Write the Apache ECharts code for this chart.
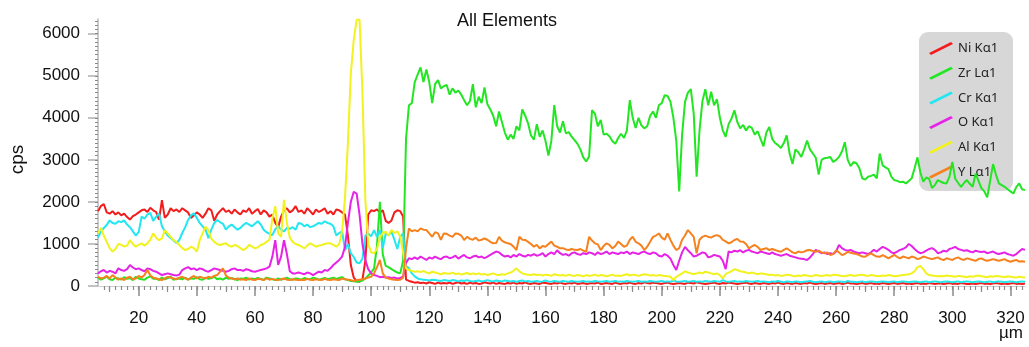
<!doctype html>
<html>
<head>
<meta charset="utf-8">
<title>All Elements</title>
<style>
  html, body { margin: 0; padding: 0; background: #fff; }
  #main { width: 1029px; height: 347px; }
</style>
</head>
<body>
<div id="main"></div>
<script src="https://cdn.jsdelivr.net/npm/echarts@6/dist/echarts.min.js"></script>
<script>
// depth positions in µm, one reading per µm from 6 to 325
var depth = [];
for (var d = 6; d <= 325; d++) depth.push(d);

var seriesNames = ['Ni K\u03b11', 'Zr L\u03b11', 'Cr K\u03b11', 'O K\u03b11', 'Al K\u03b11', 'Y L\u03b11'];

var xTickValues = [20, 40, 60, 80, 100, 120, 140, 160, 180, 200, 220, 240, 260, 280, 300, 320];
var yTickValues = [0, 1000, 2000, 3000, 4000, 5000, 6000];

var niK = [
  1780, 1900, 1950, 1750, 1720, 1780, 1700, 1750, 1680, 1720,
  1640, 1580, 1660, 1700, 1750, 1800, 1820, 1760, 1860, 1800,
  1760, 1580, 2040, 1620, 1700, 1850, 1780, 1820, 1760, 1850,
  1800, 1750, 1620, 1680, 1750, 1700, 1620, 1720, 1850, 1800,
  1550, 1700, 1780, 1850, 1760, 1800, 1720, 1820, 1750, 1700,
  1800, 1760, 1850, 1720, 1780, 1830, 1700, 1800, 1750, 1650,
  1700, 1500, 1400, 1650, 1800, 1850, 1750, 1800, 1900, 1760,
  1800, 1720, 1850, 1780, 1700, 1820, 1760, 1800, 1850, 1720,
  1780, 1700, 1820, 1800, 1750, 1700, 1200, 500, 200, 120,
  100, 150, 600, 1700, 1800, 1780, 1820, 1750, 1800, 1550,
  1500, 1560, 1750, 1800, 1780, 1650, 150, 120, 100, 80,
  90, 70, 80, 60, 90, 70, 50, 80, 60, 70,
  60, 80, 50, 70, 90, 60, 70, 50, 80, 60,
  70, 50, 60, 90, 70, 60, 80, 50, 70, 60,
  50, 70, 60, 80, 50, 70, 60, 90, 60, 50,
  70, 60, 50, 80, 70, 60, 50, 70, 60, 80,
  60, 50, 70, 60, 80, 50, 60, 70, 50, 60,
  70, 60, 80, 50, 60, 70, 60, 50, 80, 60,
  50, 70, 60, 80, 60, 50, 70, 60, 90, 70,
  60, 80, 70, 60, 50, 70, 80, 60, 50, 60,
  70, 60, 50, 80, 70, 60, 90, 70, 60, 50,
  60, 70, 80, 60, 50, 70, 60, 80, 70, 60,
  50, 60, 70, 80, 60, 50, 70, 60, 50, 70,
  60, 50, 70, 60, 80, 60, 50, 70, 60, 50,
  70, 60, 50, 70, 60, 80, 60, 50, 60, 70,
  50, 60, 70, 50, 60, 70, 50, 60, 80, 60,
  60, 50, 60, 70, 50, 60, 70, 50, 60, 50,
  70, 60, 50, 60, 70, 50, 60, 70, 50, 60,
  50, 60, 70, 50, 60, 50, 70, 60, 50, 60,
  60, 50, 60, 70, 50, 60, 50, 70, 60, 50,
  50, 60, 50, 60, 70, 50, 60, 50, 60, 70,
  60, 50, 60, 50, 60, 70, 50, 60, 50, 60
];

var zrL = [
  200, 150, 180, 220, 160, 140, 200, 180, 150, 210,
  170, 190, 140, 220, 180, 160, 150, 200, 230, 170,
  180, 140, 200, 160, 190, 220, 150, 170, 180, 160,
  200, 150, 180, 170, 210, 160, 150, 200, 170, 190,
  220, 160, 180, 150, 200, 170, 190, 160, 140, 180,
  170, 200, 150, 180, 160, 190, 170, 150, 200, 180,
  160, 140, 180, 150, 170, 200, 160, 150, 180, 170,
  150, 190, 170, 160, 200, 180, 150, 170, 190, 160,
  180, 200, 170, 190, 210, 160, 140, 120, 110, 100,
  110, 130, 180, 250, 320, 420, 950, 2000, 750, 480,
  450, 400, 360, 320, 300, 600, 3500, 4300, 4350, 4850,
  5030, 5200, 4850, 5150, 4850, 4350, 4800, 4900, 4700, 4750,
  4780, 4550, 4700, 4600, 4650, 4550, 4420, 4300, 4400, 4800,
  4250, 4500, 4350, 4720, 4320, 4200, 4050, 3800, 4150, 3900,
  3650, 3480, 3600, 3500, 3800, 3700, 4200, 4050, 3870, 3580,
  3480, 3850, 3550, 3700, 3450, 3100, 3450, 4300, 3800, 3650,
  3920, 3630, 3660, 3550, 3470, 3380, 3250, 3060, 2960, 3080,
  4180, 4100, 3800, 3950, 3600, 3620, 3560, 3450, 3380, 3520,
  3620, 3520, 3700, 4420, 4000, 3760, 4000, 3820, 3750, 3800,
  4050, 4150, 4000, 4300, 4350, 4540, 4520, 4380, 4000, 3450,
  2250, 3600, 4380, 4600, 4680, 4100, 2600, 3700, 4400, 4680,
  4300, 4620, 4300, 4440, 4000, 3700, 3550, 3850, 3980, 4180,
  3900, 3750, 3830, 3700, 3800, 3760, 3600, 3680, 3500, 3320,
  3650, 3780, 3500, 3400, 3350, 3280, 3400, 3580, 3150, 2900,
  3250, 3180, 3070, 3250, 3460, 3250, 3150, 3050, 2650, 3000,
  3040, 3050, 3070, 2950, 3000, 3070, 3200, 3420, 3000, 2850,
  2950, 2920, 2800, 2560, 2530, 2600, 2620, 2650, 2560, 3150,
  2870, 2820, 2780, 2600, 2520, 2500, 2470, 2480, 2440, 2500,
  2560, 2800, 3060, 2700, 2480, 2580, 2550, 2330, 2400, 2520,
  2480, 2450, 2440, 2600, 2950, 2550, 2450, 2360, 2450, 2520,
  2430, 2360, 2670, 2500, 2330, 2250, 2110, 2500, 2900, 2650,
  2440, 2400, 2360, 2300, 2250, 2200, 2350, 2440, 2300, 2280
];

var crK = [
  1150, 1300, 1380, 1450, 1560, 1500, 1480, 1540, 1520, 1560,
  1460, 1400, 1300, 1200, 1280, 1650, 1600, 1700, 1740, 1550,
  1650, 1720, 1420, 1300, 1200, 1140, 1080, 1020, 1100, 1260,
  1400, 1570, 1680, 1730, 1620, 1500, 1420, 1340, 1140, 1340,
  1500, 1570, 1520, 1480, 1340, 1420, 1460, 1400, 1340, 1380,
  1450, 1500, 1460, 1420, 1480, 1540, 1460, 1340, 1280, 1240,
  1210, 1350, 1420, 1340, 1300, 1380, 1360, 1400, 1340, 1500,
  1480, 1420, 1460, 1400, 1420, 1460, 1500, 1480, 1540, 1500,
  1480, 1420, 1200, 1260, 1300, 850, 1000, 780, 690, 560,
  540, 650, 1200, 1250, 1180, 1330, 1170, 1330, 900, 1250,
  1200, 1300, 1100, 880, 1170, 1250, 480, 420, 300, 230,
  180, 160, 150, 140, 130, 150, 140, 130, 120, 140,
  130, 120, 140, 130, 110, 130, 120, 140, 120, 110,
  120, 130, 110, 120, 140, 120, 110, 130, 120, 110,
  130, 120, 110, 120, 100, 120, 130, 110, 120, 100,
  110, 120, 100, 110, 130, 110, 100, 120, 110, 100,
  120, 110, 100, 120, 110, 100, 110, 120, 100, 110,
  100, 120, 110, 100, 110, 120, 100, 110, 120, 100,
  110, 100, 120, 110, 100, 110, 120, 100, 110, 100,
  120, 110, 100, 110, 120, 100, 110, 100, 130, 110,
  100, 110, 120, 100, 110, 120, 100, 110, 100, 120,
  110, 100, 120, 110, 100, 140, 110, 100, 110, 120,
  100, 110, 100, 120, 110, 100, 110, 120, 100, 110,
  100, 90, 110, 100, 120, 100, 90, 110, 100, 90,
  110, 100, 90, 100, 110, 120, 100, 90, 100, 110,
  90, 100, 110, 90, 100, 110, 100, 90, 120, 100,
  100, 90, 100, 110, 90, 100, 110, 100, 90, 100,
  110, 100, 90, 100, 110, 90, 100, 110, 100, 90,
  100, 110, 100, 90, 100, 110, 90, 100, 110, 100,
  90, 100, 110, 100, 90, 100, 110, 90, 100, 110,
  100, 90, 100, 110, 100, 90, 100, 110, 90, 100,
  110, 100, 90, 100, 110, 100, 90, 100, 110, 100
];

var oK = [
  300, 350, 380, 320, 360, 340, 300, 420, 380, 360,
  400, 500, 440, 400, 420, 380, 350, 420, 400, 360,
  340, 300, 260, 280, 300, 280, 260, 250, 270, 380,
  420, 450, 400, 420, 380, 420, 400, 360, 340, 380,
  420, 400, 380, 360, 340, 360, 400, 420, 380, 380,
  360, 400, 380, 350, 340, 360, 380, 400, 420, 460,
  700, 1090, 500, 700, 1090, 760, 350, 300, 300, 320,
  300, 280, 320, 300, 260, 300, 340, 320, 380, 360,
  420, 500, 560, 620, 700, 930, 1500, 2000, 2240, 2200,
  1700, 1000, 620, 400, 300, 260, 240, 210, 220, 200,
  210, 190, 200, 180, 190, 220, 550, 660, 640, 680,
  640, 700, 660, 620, 680, 650, 700, 660, 640, 690,
  700, 660, 680, 720, 650, 700, 740, 680, 660, 700,
  720, 680, 700, 660, 700, 740, 780, 820, 800, 740,
  700, 720, 680, 740, 700, 760, 720, 700, 740, 720,
  760, 720, 740, 780, 700, 760, 800, 760, 850, 780,
  740, 760, 720, 780, 800, 760, 740, 780, 760, 800,
  780, 740, 800, 760, 780, 820, 760, 800, 780, 760,
  800, 780, 820, 760, 800, 780, 760, 800, 820, 780,
  760, 800, 780, 720, 700, 760, 720, 650, 500, 380,
  600, 800, 930, 850, 780, 700, 720, 760, 800, 780,
  680, 700, 740, 720, 700, 600, 400, 820, 800, 840,
  820, 850, 800, 840, 860, 820, 800, 780, 820, 800,
  780, 760, 800, 760, 740, 720, 740, 760, 720, 700,
  680, 660, 650, 640, 620, 680, 760, 860, 820, 780,
  800, 760, 780, 760, 820, 980, 900, 860, 840, 860,
  820, 800, 780, 800, 780, 760, 800, 860, 820, 880,
  930, 900, 860, 800, 780, 820, 860, 880, 920, 1000,
  950, 880, 820, 780, 800, 840, 880, 900, 860, 780,
  800, 840, 820, 880, 900, 930, 880, 860, 840, 850,
  820, 800, 840, 820, 810, 820, 780, 800, 820, 780,
  760, 780, 800, 760, 740, 720, 760, 820, 880, 860
];

var alK = [
  1250, 1380, 1200, 1050, 900, 820, 880, 1000, 980, 940,
  960, 1090, 1000, 935, 980, 1015, 960, 1015, 1100, 1250,
  1150, 1090, 1130, 1330, 1250, 1170, 1090, 1050, 975, 900,
  855, 880, 935, 900, 815, 1090, 1250, 1410, 1330, 1130,
  1050, 1000, 975, 1000, 1015, 960, 935, 975, 950, 900,
  855, 900, 975, 940, 895, 920, 975, 1000, 1050, 1100,
  1600, 1900, 1250, 1170, 2050, 1500, 1150, 1050, 1000, 975,
  940, 895, 960, 1015, 980, 935, 960, 975, 1000, 1015,
  1015, 980, 935, 1000, 1300, 2100, 3400, 5050, 5850, 6330,
  6330, 4600, 2040, 1000, 800, 780, 880, 1150, 1260, 1290,
  1200, 1330, 1260, 1300, 1170, 800, 420, 380, 360, 340,
  350, 330, 360, 320, 300, 340, 320, 300, 280, 310,
  300, 290, 320, 280, 300, 270, 290, 310, 280, 300,
  280, 300, 270, 290, 260, 280, 300, 270, 260, 280,
  270, 300, 320, 360, 420, 350, 300, 280, 270, 260,
  280, 260, 270, 250, 270, 260, 240, 280, 260, 250,
  260, 240, 270, 250, 240, 260, 250, 230, 260, 240,
  250, 270, 240, 260, 250, 230, 250, 270, 240, 250,
  240, 260, 280, 250, 270, 260, 240, 260, 280, 270,
  250, 260, 240, 260, 250, 240, 230, 220, 140, 220,
  260, 300, 350, 320, 300, 280, 300, 320, 300, 340,
  320, 300, 280, 300, 260, 180, 280, 320, 350, 400,
  380, 350, 340, 320, 300, 320, 300, 280, 300, 290,
  280, 260, 270, 250, 260, 240, 250, 270, 260, 240,
  230, 250, 240, 260, 250, 230, 240, 260, 250, 240,
  250, 260, 240, 270, 260, 250, 240, 230, 250, 260,
  240, 250, 260, 270, 250, 240, 260, 250, 240, 230,
  250, 240, 260, 250, 230, 240, 250, 260, 270, 280,
  300, 350, 450, 480, 400, 300, 260, 250, 240, 230,
  240, 230, 250, 240, 230, 220, 240, 230, 220, 210,
  230, 220, 240, 250, 230, 220, 210, 230, 220, 240,
  230, 220, 210, 230, 220, 210, 200, 220, 210, 200
];

var yL = [
  220, 180, 200, 240, 180, 260, 200, 150, 180, 140,
  200, 220, 160, 180, 240, 200, 260, 380, 250, 200,
  180, 160, 140, 180, 220, 200, 180, 160, 200, 220,
  180, 150, 200, 240, 180, 220, 200, 180, 220, 200,
  240, 260, 340, 420, 250, 200, 180, 160, 180, 150,
  160, 140, 180, 150, 140, 170, 160, 140, 180, 150,
  170, 150, 140, 160, 180, 150, 140, 160, 150, 140,
  150, 140, 170, 150, 140, 160, 150, 140, 170, 150,
  140, 160, 150, 140, 180, 160, 150, 140, 120, 140,
  150, 160, 180, 200, 220, 300, 450, 620, 300, 200,
  180, 160, 150, 140, 150, 200, 900, 1370, 1300, 1330,
  1300, 1370, 1340, 1330, 1250, 1170, 1280, 1250, 1100, 1250,
  1240, 1200, 1170, 1250, 1240, 1200, 1095, 1170, 1120, 1100,
  1150, 1080, 1100, 1130, 1100, 1050, 1015, 1020, 1170, 1080,
  1040, 1015, 1000, 935, 855, 1170, 1100, 1095, 1050, 1000,
  935, 980, 895, 950, 935, 1000, 1055, 960, 935, 895,
  900, 870, 855, 880, 860, 855, 880, 840, 815, 1170,
  1080, 1015, 990, 855, 950, 1015, 980, 895, 950, 1055,
  1000, 935, 960, 1100, 1170, 1050, 1015, 960, 855, 935,
  1050, 1170, 1200, 1250, 1150, 1100, 1250, 1095, 960, 855,
  900, 1100, 1200, 1330, 1250, 1170, 775, 1100, 1170, 1200,
  1170, 1150, 1190, 1210, 1180, 1095, 1060, 1015, 1040, 1095,
  1120, 1060, 1055, 1000, 895, 940, 975, 930, 855, 880,
  900, 855, 880, 855, 830, 815, 860, 895, 850, 800,
  775, 820, 800, 815, 850, 855, 830, 815, 840, 800,
  775, 800, 735, 760, 850, 800, 735, 760, 815, 790,
  775, 760, 735, 700, 695, 740, 775, 735, 700, 695,
  735, 700, 657, 700, 740, 695, 657, 700, 680, 657,
  700, 680, 640, 660, 700, 680, 657, 640, 660, 680,
  640, 617, 660, 640, 620, 657, 680, 640, 620, 657,
  640, 617, 600, 640, 657, 620, 600, 617, 640, 620,
  600, 617, 640, 600, 577, 600, 620, 580, 590, 577
];

var seriesValues = [niK, zrL, crK, oK, alK, yL];
var seriesColors = ['#f21c1c', '#22e622', '#22e6f0', '#e622e6', '#f2f21e', '#f5821e'];

// positions of the small ticks (every 2 µm on x, every 100 cps on y)
var xMinor = [], xMid = [], yMinor = [];
for (var m = 8; m <= 324; m += 2) xMinor.push(m);
for (var k = 10; k <= 320; k += 20) xMid.push(k);
for (var n = 100; n <= 6300; n += 100) yMinor.push(n);

var chart = echarts.init(document.getElementById('main'));

var font = '"Liberation Sans", Arial, Helvetica, sans-serif';

chart.setOption({
  animation: false,
  backgroundColor: '#fff',
  title: {
    text: 'All Elements',
    left: 452,
    top: 7,
    textStyle: { fontFamily: font, fontSize: 18, fontWeight: 'normal', color: '#111' }
  },
  legend: {
    orient: 'vertical',
    left: 919,
    top: 32,
    data: seriesNames,
    padding: [10, 12, 12, 10],
    itemWidth: 24,
    itemHeight: 13,
    itemGap: 11.7,
    icon: 'path://M0,11 L22,0 L24,2 L2,13 Z',
    textStyle: { fontFamily: '"Noto Sans", sans-serif', fontSize: 13, color: '#222' }
  },
  graphic: [{
    // grey panel behind the legend, kept under the plotted lines
    type: 'rect',
    left: 919,
    top: 32,
    z: -1,
    silent: true,
    shape: { width: 94, height: 159, r: 9 },
    style: { fill: 'rgba(205,205,205,0.8)' }
  }, {
    type: 'text',
    right: 6,
    top: 325,
    z: 10,
    style: { text: '\u00b5m', fontFamily: font, fontSize: 17, fill: '#111' }
  }],
  grid: { left: 95, right: 4, top: 19, bottom: 61 },
  xAxis: [{
    type: 'value',
    min: 6,
    max: 325,
    axisLine: { show: true, lineStyle: { color: '#d0d0d0', width: 1 } },
    axisTick: { show: true, customValues: xTickValues, length: 10, lineStyle: { color: '#8a8a8a', width: 1.5 } },
    axisLabel: { customValues: xTickValues, margin: 24, fontFamily: font, fontSize: 17, color: '#111' },
    splitLine: { show: false }
  }, {
    type: 'value',
    min: 6,
    max: 325,
    position: 'bottom',
    axisLine: { show: false },
    axisTick: { show: true, customValues: xMinor, length: 4, lineStyle: { color: '#8a8a8a', width: 1.2 } },
    axisLabel: { show: false },
    splitLine: { show: false }
  }, {
    type: 'value',
    min: 6,
    max: 325,
    position: 'bottom',
    axisLine: { show: false },
    axisTick: { show: true, customValues: xMid, length: 6, lineStyle: { color: '#8a8a8a', width: 1.2 } },
    axisLabel: { show: false },
    splitLine: { show: false }
  }],
  yAxis: [{
    type: 'value',
    min: 0,
    max: 6350,
    position: 'left',
    name: 'cps',
    nameLocation: 'middle',
    nameGap: 71,
    nameTextStyle: { fontFamily: font, fontSize: 19, color: '#111', padding: [0, 14, 0, 0] },
    axisLine: { show: true, lineStyle: { color: '#b8b8b8', width: 1.5 } },
    axisTick: { show: true, customValues: yTickValues, length: 10, lineStyle: { color: '#b0b0b0', width: 1.5 } },
    axisLabel: {
      customValues: yTickValues,
      margin: 18,
      fontFamily: font,
      fontSize: 17,
      color: '#111',
      formatter: function (v) { return String(v); }
    },
    splitLine: { show: false }
  }, {
    type: 'value',
    min: 0,
    max: 6350,
    position: 'left',
    axisLine: { show: false },
    axisTick: { show: true, customValues: yMinor, length: 3, lineStyle: { color: '#8a8a8a', width: 1 } },
    axisLabel: { show: false },
    splitLine: { show: false }
  }],
  series: seriesNames.map(function (name, i) {
    return {
      name: name,
      type: 'line',
      xAxisIndex: 0,
      yAxisIndex: 0,
      zlevel: 1,
      showSymbol: false,
      symbol: 'none',
      color: seriesColors[i],
      lineStyle: { color: seriesColors[i], width: 2 },
      data: depth.map(function (x, j) { return [x, seriesValues[i][j]]; })
    };
  })
});

window.addEventListener('resize', function () {
  chart.resize();
});
</script>
</body>
</html>
